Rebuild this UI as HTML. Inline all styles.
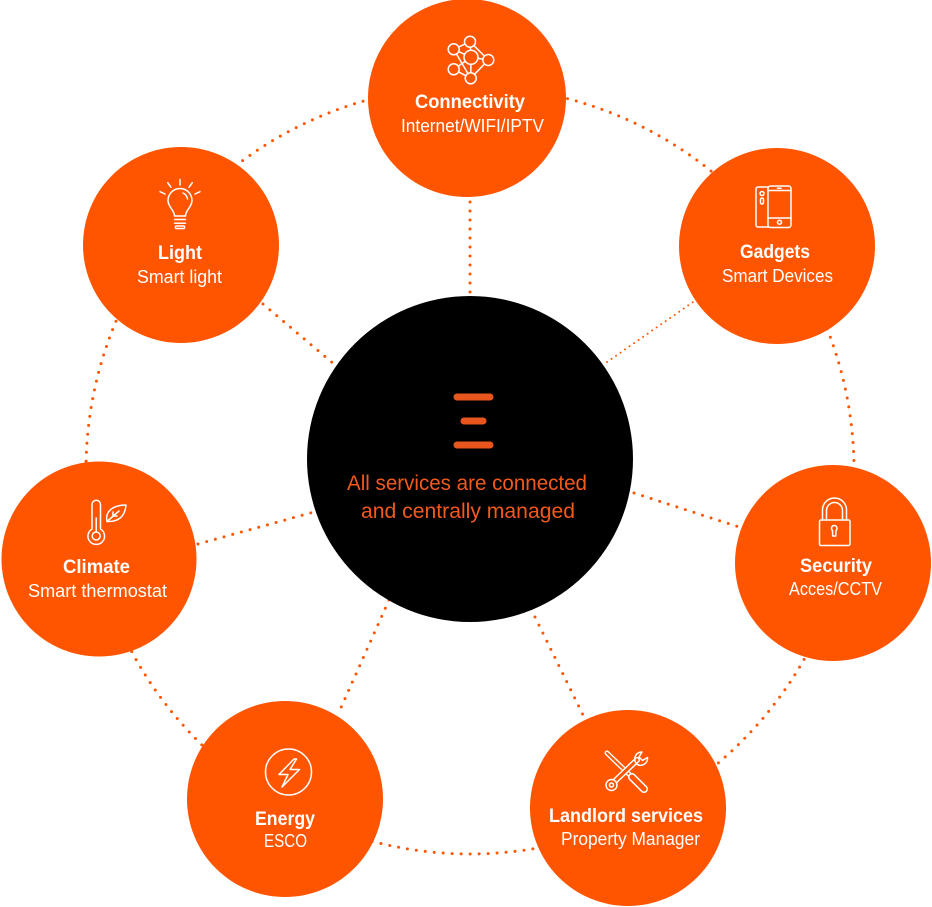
<!DOCTYPE html>
<html>
<head>
<meta charset="utf-8">
<style>
  html,body{margin:0;padding:0;background:#fff;}
  body{width:932px;height:907px;overflow:hidden;}
  svg{display:block;}
  .t{font-family:"Liberation Sans",sans-serif;font-weight:bold;font-size:19px;fill:#fff;}
  .s{font-family:"Liberation Sans",sans-serif;font-weight:normal;font-size:18.5px;fill:#fff;}
  .c{font-family:"Liberation Sans",sans-serif;font-size:21.5px;fill:#f25a1c;}
  .ic{fill:none;stroke:#fff;stroke-width:1.5;stroke-linecap:round;stroke-linejoin:round;}
  .dot{fill:none;stroke:#ff5500;stroke-width:3;stroke-linecap:round;stroke-dasharray:0 9;}
</style>
</head>
<body>
<svg width="932" height="907" viewBox="0 0 932 907" xmlns="http://www.w3.org/2000/svg">
  <!-- outer dotted ring -->
  <circle cx="470" cy="470" r="384" class="dot"/>
  <!-- spokes -->
  <line x1="470" y1="202" x2="470" y2="298" class="dot"/>
  <line x1="607" y1="362" x2="696" y2="300" fill="none" stroke="#ff5500" stroke-width="2" stroke-linecap="round" stroke-dasharray="0 5.5"/>
  <line x1="634" y1="493" x2="742" y2="528" class="dot"/>
  <line x1="535" y1="617" x2="585" y2="719" class="dot"/>
  <line x1="389" y1="600" x2="339" y2="712" class="dot"/>
  <line x1="198" y1="544" x2="314" y2="512" class="dot"/>
  <line x1="263" y1="304" x2="335" y2="365" class="dot"/>

  <!-- orange circles -->
  <g fill="#ff5500">
    <circle cx="467" cy="98" r="99"/>
    <circle cx="777" cy="246" r="98"/>
    <circle cx="181" cy="245" r="98"/>
    <circle cx="99" cy="559" r="97.5"/>
    <circle cx="833" cy="563" r="98"/>
    <circle cx="285" cy="799" r="98"/>
    <circle cx="628" cy="808" r="98"/>
  </g>

  <!-- center black circle -->
  <circle cx="470" cy="459" r="163" fill="#000"/>
  <g stroke="#e8561e" stroke-width="7" stroke-linecap="round">
    <line x1="457" y1="397" x2="490" y2="397"/>
    <line x1="464" y1="421" x2="483" y2="421"/>
    <line x1="457" y1="445" x2="490" y2="445"/>
  </g>
  <text class="c" x="347" y="490" textLength="240" lengthAdjust="spacingAndGlyphs">All services are connected</text>
  <text class="c" x="361" y="518" textLength="214" lengthAdjust="spacingAndGlyphs">and centrally managed</text>

  <!-- Connectivity icon -->
  <g class="ic">
    <line x1="453.7" y1="49.3" x2="470" y2="41.7"/>
    <line x1="470" y1="41.7" x2="488.3" y2="60"/>
    <line x1="453.7" y1="49.3" x2="471" y2="57.3"/>
    <line x1="470" y1="41.7" x2="471" y2="57.3"/>
    <line x1="471" y1="57.3" x2="488.3" y2="60"/>
    <line x1="488.3" y1="60" x2="470.7" y2="78.3"/>
    <line x1="471" y1="57.3" x2="470.7" y2="78.3"/>
    <line x1="453.7" y1="69.3" x2="471" y2="57.3"/>
    <line x1="453.7" y1="69.3" x2="470.7" y2="78.3"/>
    <line x1="453.7" y1="49.3" x2="470.7" y2="78.3"/>
  </g>
  <g class="ic" style="fill:#ff5500">
    <circle cx="453.7" cy="49.3" r="5.5"/>
    <circle cx="470" cy="41.7" r="5.5"/>
    <circle cx="471" cy="57.3" r="7"/>
    <circle cx="488.3" cy="60" r="5.5"/>
    <circle cx="453.7" cy="69.3" r="5.5"/>
    <circle cx="470.7" cy="78.3" r="5.5"/>
  </g>
  <text class="t" x="415" y="108" textLength="110" lengthAdjust="spacingAndGlyphs">Connectivity</text>
  <text class="s" x="401" y="132" textLength="143" lengthAdjust="spacingAndGlyphs">Internet/WIFI/IPTV</text>

  <!-- Gadgets icon -->
  <g class="ic">
    <rect x="756" y="187" width="15" height="40" rx="2"/>
    <circle cx="762" cy="193.5" r="2"/>
    <rect x="760.5" y="198" width="3" height="6" rx="1.5"/>
    <rect x="768" y="186" width="23" height="41.5" rx="2.5" style="fill:#ff5500"/>
    <line x1="768" y1="190.5" x2="791" y2="190.5"/>
    <line x1="768" y1="218" x2="791" y2="218"/>
    <line x1="777.5" y1="188.2" x2="781" y2="188.2"/>
    <circle cx="779.5" cy="222.2" r="2"/>
  </g>
  <text class="t" x="740" y="258" textLength="70" lengthAdjust="spacingAndGlyphs">Gadgets</text>
  <text class="s" x="722" y="282" textLength="111" lengthAdjust="spacingAndGlyphs">Smart Devices</text>

  <!-- Light icon -->
  <g class="ic">
    <line x1="180" y1="179.5" x2="180" y2="185"/>
    <line x1="167.7" y1="182.7" x2="171" y2="187.3"/>
    <line x1="192.3" y1="182.7" x2="189" y2="187.3"/>
    <line x1="160" y1="191.7" x2="165" y2="194"/>
    <line x1="200" y1="191.7" x2="195" y2="194"/>
    <path d="M174.5,216 C174.5,210 168,207 168,200.5 A12,12 0 1 1 192,200.5 C192,207 185.5,210 185.5,216 Z"/>
    <path d="M183,193 A8,8 0 0 1 187.5,199"/>
    <line x1="174.5" y1="219.5" x2="185.5" y2="219.5"/>
    <line x1="174.5" y1="223.3" x2="185.5" y2="223.3"/>
    <path d="M176,226 H184 A1.5,1.5 0 0 1 184,228.5 H176 A1.5,1.5 0 0 1 176,226 Z"/>
  </g>
  <text class="t" x="158" y="259" textLength="44" lengthAdjust="spacingAndGlyphs">Light</text>
  <text class="s" x="137" y="283" textLength="85" lengthAdjust="spacingAndGlyphs">Smart light</text>

  <!-- Climate icon -->
  <g class="ic">
    <path d="M92,529 V504.5 A4.25,4.25 0 0 1 100.5,504.5 V529 A8.3,8.3 0 1 1 92,529 Z"/>
    <line x1="96.2" y1="518" x2="96.2" y2="532"/>
    <circle cx="96.2" cy="536" r="4"/>
    <path d="M107,521.5 C105,512 112,505 126,505 C125,516 119,522 107,521.5 Z"/>
    <path d="M107,521.5 L119,511"/>
    <path d="M113,516 L113,512 M113,516 L117,516"/>
  </g>
  <text class="t" x="63" y="573" textLength="67" lengthAdjust="spacingAndGlyphs">Climate</text>
  <text class="s" x="28" y="597" textLength="139" lengthAdjust="spacingAndGlyphs">Smart thermostat</text>

  <!-- Security icon -->
  <g class="ic">
    <path d="M822.5,520 V510 A12,12 0 0 1 846.5,510 V520"/>
    <path d="M826.5,520 V510.5 A8,8 0 0 1 842.5,510.5 V520"/>
    <rect x="819.5" y="520" width="30.5" height="25.5" rx="1.5"/>
    <path d="M832.5,530.5 A2.8,2.8 0 1 1 836,530.5 L835.8,536 H832.7 Z"/>
  </g>
  <text class="t" x="800" y="572" textLength="72" lengthAdjust="spacingAndGlyphs">Security</text>
  <text class="s" x="789" y="595" textLength="93" lengthAdjust="spacingAndGlyphs">Acces/CCTV</text>

  <!-- Energy icon -->
  <g class="ic">
    <circle cx="288.5" cy="772" r="23"/>
    <path d="M294,759 L279,774.5 L288,774.5 L282,787 L299.5,769.5 L290,769.5 L296.5,759 Z"/>
  </g>
  <text class="t" x="255" y="825" textLength="60" lengthAdjust="spacingAndGlyphs">Energy</text>
  <text class="s" x="264" y="847" textLength="43" lengthAdjust="spacingAndGlyphs">ESCO</text>

  <!-- Landlord icon -->
  <g stroke-linecap="round" fill="none">
    <line x1="607" y1="753" x2="634" y2="779" stroke="#fff" stroke-width="5"/>
    <line x1="607" y1="753" x2="634" y2="779" stroke="#ff5500" stroke-width="2.2"/>
    <line x1="632" y1="777" x2="644" y2="789" stroke="#fff" stroke-width="8"/>
    <line x1="632" y1="777" x2="644" y2="789" stroke="#ff5500" stroke-width="5"/>
    <line x1="614" y1="782" x2="637" y2="760" stroke="#fff" stroke-width="6"/>
    <line x1="614" y1="782" x2="637" y2="760" stroke="#ff5500" stroke-width="3"/>
  </g>
  <g class="ic">
    <circle cx="611.5" cy="785" r="5.5" style="fill:#ff5500"/>
    <circle cx="611.5" cy="785" r="2"/>
    <path d="M636,763 A7,7 0 0 1 642,752 L639,757 L642.5,760.5 L647.5,757.5 A7,7 0 0 1 636.5,764"/>
  </g>
  <text class="t" x="549" y="822" textLength="154" lengthAdjust="spacingAndGlyphs">Landlord services</text>
  <text class="s" x="561" y="845" textLength="139" lengthAdjust="spacingAndGlyphs">Property Manager</text>
</svg>
</body>
</html>
